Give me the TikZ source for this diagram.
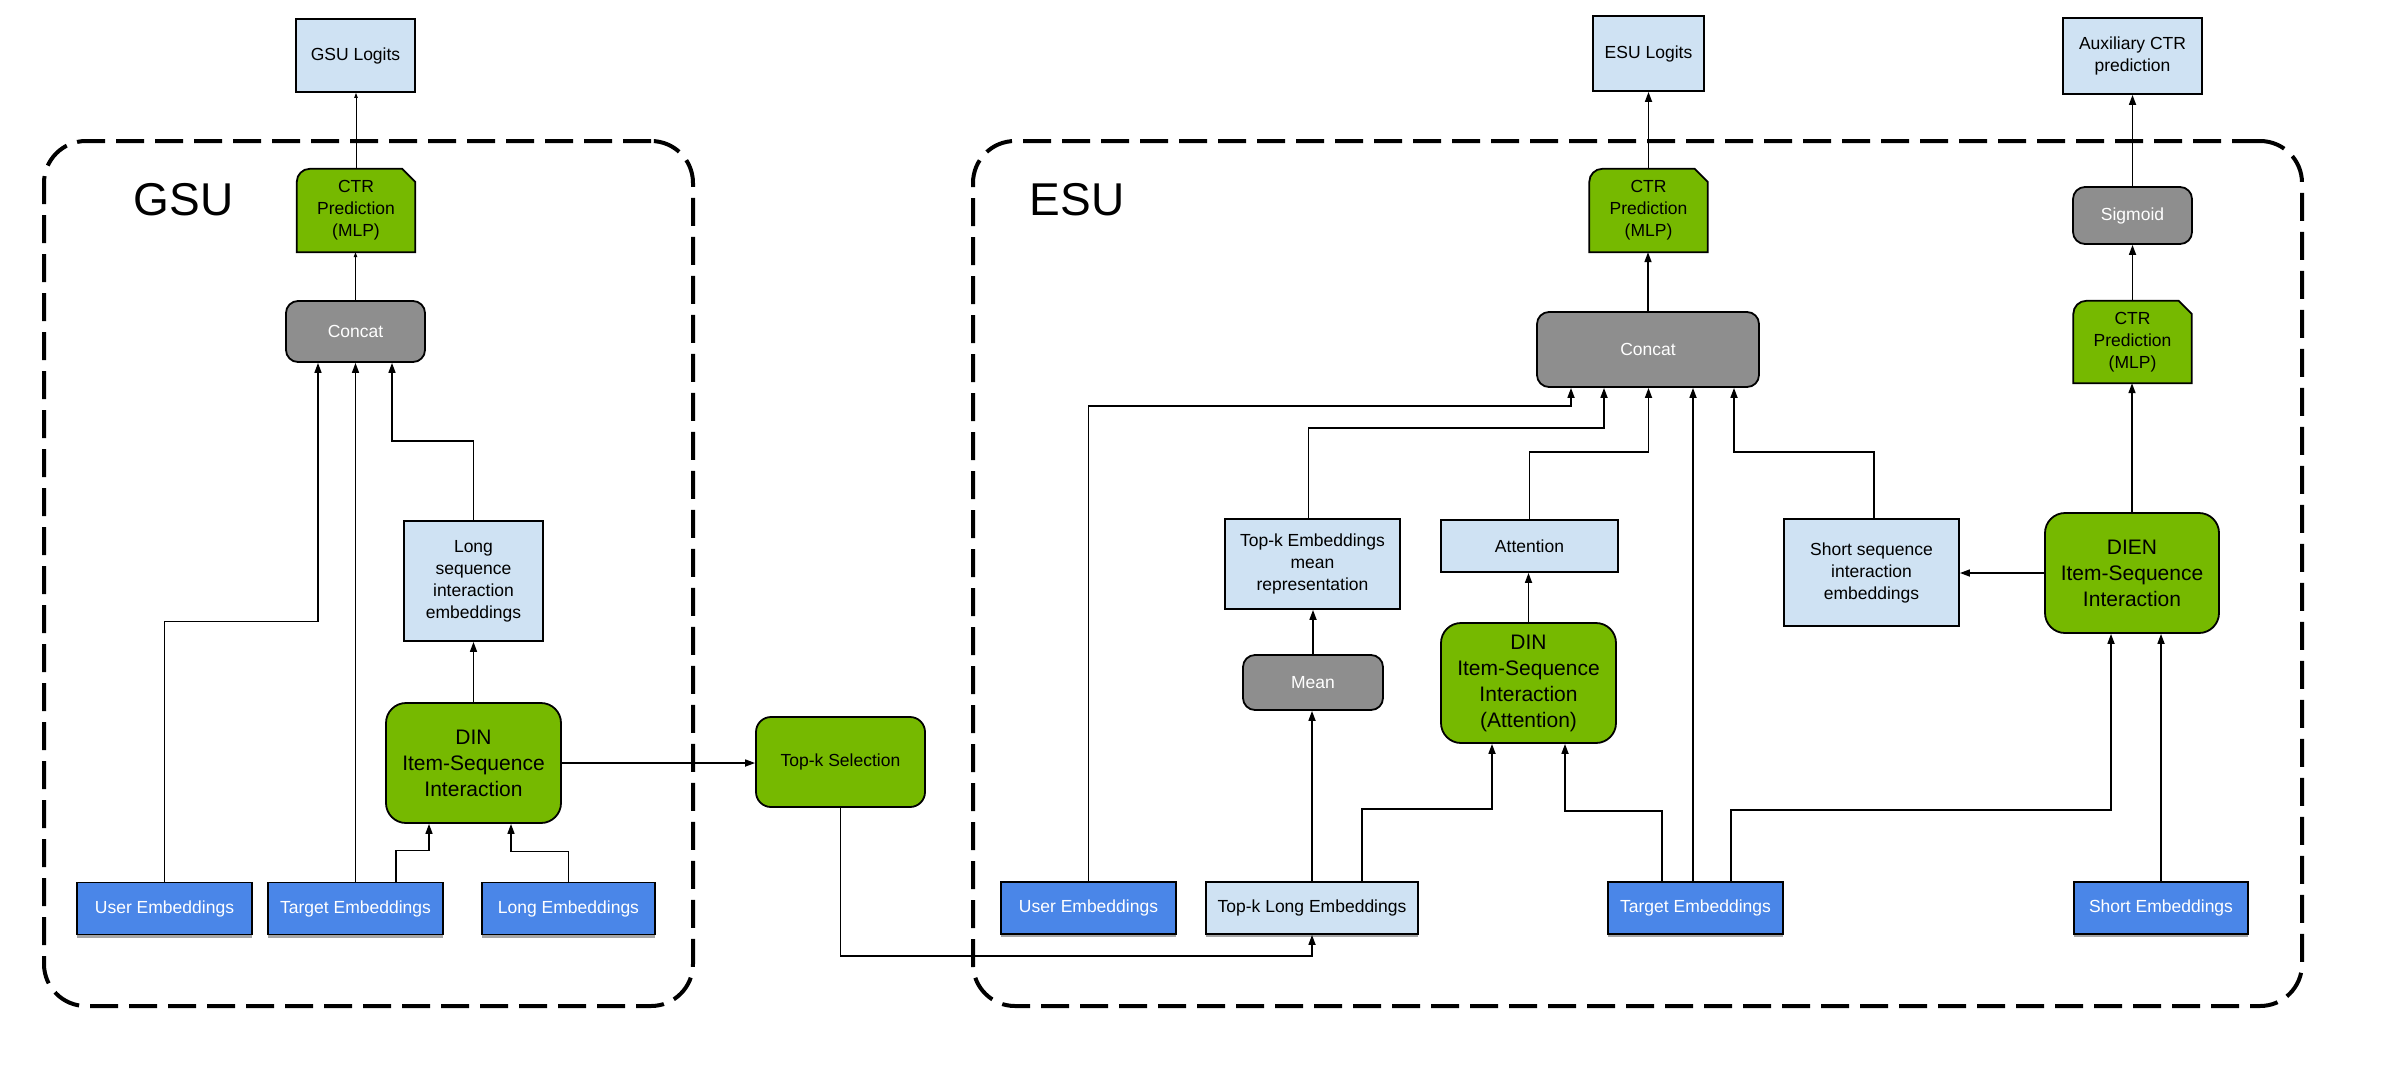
\documentclass[tikz,border=0pt]{standalone}
\usepackage{fontspec}
\setmainfont{Liberation Sans}
\usetikzlibrary{arrows.meta,shadows,backgrounds}
\definecolor{lblue}{HTML}{CFE2F3}
\definecolor{eblue}{HTML}{4A86E8}
\definecolor{ngreen}{HTML}{76B900}
\definecolor{ggray}{HTML}{8E8E8E}
\newcommand\fsnorm{\fontsize{17.5}{22}\selectfont}
\newcommand\fsbig{\fontsize{21}{26}\selectfont}
\newcommand\fslabel{\fontsize{46}{50}\selectfont}
\tikzset{
  base/.style={draw=black, line width=1.8pt, align=center, inner sep=0pt, text=black, font=\fsnorm},
  lbox/.style={base, fill=lblue},
  ebox/.style={base, fill=eblue, text=white, minimum height=52pt,
    drop shadow={shadow xshift=0pt, shadow yshift=-3pt, opacity=0.35, fill=black}},
  lebox/.style={ebox, fill=lblue, text=black},
  gbox/.style={base, fill=ggray, text=white, rounded corners=12pt},
  grbox/.style={base, fill=ngreen, rounded corners=20pt, font=\fsbig},
  ctrnode/.style={align=center, inner sep=0pt, font=\fsnorm, minimum width=118pt, minimum height=83pt},
  ctrshape/.style={draw=black, line width=1.8pt, fill=ngreen},
  arr/.style={line width=1.6pt, -{Triangle[length=10pt,width=7pt]}},
  sarr/.style={line width=0.8pt, -{Triangle[length=5pt,width=3.5pt]}},
  dbox/.style={draw=black, line width=4pt, dash pattern=on 28pt off 11pt, rounded corners=42pt, inner sep=0pt},
  lbl/.style={inner sep=0pt, font=\fslabel},
}
\begin{document}
\begin{tikzpicture}[x=1pt,y=-1pt]
\begin{scope}[on background layer]
\fill[white] (0,0) rectangle (2386,1072);
\end{scope}
\useasboundingbox (0,0) rectangle (2386,1072);

% dashed containers
\node[dbox, minimum width=649pt, minimum height=865pt] (gsubox) at (368.5,573.5) {};
\node[dbox, minimum width=1329pt, minimum height=865pt] (esubox) at (1637.5,573.5) {};
\node[lbl] (gsulbl) at (183.5,199.5) {GSU};
\node[lbl] (esulbl) at (1077,199.5) {ESU};

% ---------------- GSU ----------------
\node[lbox, minimum width=119pt, minimum height=73pt] (glog) at (355.5,55.5) {GSU Logits};
\node[ctrnode] (gctr) at (356,210.5) {CTR\\Prediction\\(MLP)};
\node[gbox, minimum width=139pt, minimum height=61pt] (gcat) at (355.5,331.5) {Concat};
\node[lbox, minimum width=139pt, minimum height=120pt] (glong) at (473.5,581) {Long\\sequence\\interaction\\embeddings};
\node[grbox, minimum width=175pt, minimum height=120pt] (gdin) at (473.5,763) {DIN\\Item-Sequence\\Interaction};
\node[ebox, minimum width=175pt] (guser) at (164.5,908.5) {User Embeddings};
\node[ebox, minimum width=175pt] (gtarget) at (355.5,908.5) {Target Embeddings};
\node[ebox, minimum width=173pt] (glongemb) at (568.5,908.5) {Long Embeddings};
\node[base, fill=ngreen, rounded corners=15pt, minimum width=169pt, minimum height=90pt] (topk) at (840.5,762) {Top-k Selection};

% ---------------- ESU ----------------
\node[lbox, minimum width=111pt, minimum height=75pt] (elog) at (1648.5,53.5) {ESU Logits};
\node[ctrnode] (ectr) at (1648.5,210.5) {CTR\\Prediction\\(MLP)};
\node[gbox, minimum width=222pt, minimum height=75pt] (ecat) at (1648,349.5) {Concat};
\node[lbox, minimum width=139pt, minimum height=76pt] (aux) at (2132.5,56) {Auxiliary CTR\\prediction};
\node[gbox, minimum width=119pt, minimum height=57pt] (sig) at (2132.5,215.5) {Sigmoid};
\node[ctrnode, minimum height=82pt] (actr) at (2132.5,342) {CTR\\Prediction\\(MLP)};
\node[lbox, minimum width=175pt, minimum height=90pt] (tmean) at (1312.5,564) {Top-k Embeddings\\mean\\representation};
\node[lbox, minimum width=177pt, minimum height=52pt] (attn) at (1529.5,546) {Attention};
\node[gbox, minimum width=140pt, minimum height=55pt] (mean) at (1313,682.5) {Mean};
\node[grbox, minimum width=175pt, minimum height=120pt] (edin) at (1528.5,683) {DIN\\Item-Sequence\\Interaction\\(Attention)};
\node[lbox, minimum width=175pt, minimum height=107pt] (sseq) at (1871.5,572.5) {Short sequence\\interaction\\embeddings};
\node[grbox, minimum width=174pt, minimum height=120pt] (dien) at (2132,573) {DIEN\\Item-Sequence\\Interaction};
\node[ebox, minimum width=175pt] (euser) at (1088.5,908) {User Embeddings};
\node[lebox, minimum width=212pt] (tlong) at (1312,908) {Top-k Long Embeddings};
\node[ebox, minimum width=175pt] (etarget) at (1695.5,908) {Target Embeddings};
\node[ebox, minimum width=174pt] (eshort) at (2161,908) {Short Embeddings};

% CTR shapes (rounded top-left, cut top-right)
\begin{scope}[on background layer]
\foreach \n in {gctr,ectr,actr}{
  \draw[ctrshape] (\n.south west) -- ([yshift=-13pt]\n.north west)
    to[out=90,in=180] ([xshift=13pt]\n.north west)
    -- ([xshift=-13pt]\n.north east) -- ([yshift=-13pt]\n.north east)
    -- (\n.south east) -- cycle;
}
\end{scope}

% ---------------- GSU connectors ----------------
\draw[sarr] (gcat.north) -- (gcat.north |- gctr.south);
\draw[sarr] (gctr.north) -- (gctr.north |- glog.south);
\draw[arr] (guser.north) -- ++(0,-260) -| ([xshift=-37.5pt]gcat.south);
\draw[arr] (gtarget.north) -- (gcat.south);
\draw[arr] (glong.north) -- ++(0,-79) -| ([xshift=36.5pt]gcat.south);
\draw[arr] (gdin.north) -- (glong.south);
\draw[arr] ([xshift=40.5pt]gtarget.north) -- ++(0,-31) -| ([xshift=-44.5pt]gdin.south);
\draw[arr] (glongemb.north) -- ++(0,-30) -| ([xshift=37.5pt]gdin.south);
\draw[arr] (gdin.east) -- (gdin.east -| topk.west);
\draw[arr] (topk.south) -- ++(0,148) -| (tlong.south);

% ---------------- ESU connectors ----------------
\draw[arr] (ecat.north) -- (ecat.north |- ectr.south);
\draw[arr] (ectr.north) -- (ectr.north |- elog.south);
\draw[arr] (euser.north) -- ++(0,-475) -| ([xshift=-77pt]ecat.south);
\draw[arr] ([xshift=-4pt]tmean.north) -- ++(0,-90) -| ([xshift=-44pt]ecat.south);
\draw[arr] (attn.north) -- ++(0,-67) -| ([xshift=0.5pt]ecat.south);
\draw[arr] ([xshift=-2.5pt]etarget.north) -- ([xshift=45pt]ecat.south);
\draw[arr] ([xshift=2.5pt]sseq.north) -- ++(0,-66) -| ([xshift=86pt]ecat.south);
\draw[arr] (mean.north) -- (mean.north |- tmean.south);
\draw[arr] (tlong.north) -- (tlong.north |- mean.south);
\draw[arr] ([xshift=50pt]tlong.north) -- ++(0,-72) -| ([xshift=-36.5pt]edin.south);
\draw[arr] ([xshift=-33.5pt]etarget.north) -- ++(0,-70) -| ([xshift=36.5pt]edin.south);
\draw[arr] (edin.north) -- (edin.north |- attn.south);
\draw[arr] ([xshift=35.5pt]etarget.north) -- ++(0,-71) -| ([xshift=-21pt]dien.south);
\draw[arr] (eshort.north) -- (eshort.north |- dien.south);
\draw[arr] (dien.west) -- (dien.west -| sseq.east);
\draw[arr] (dien.north) -- (dien.north |- actr.south);
\draw[arr] (actr.north) -- (actr.north |- sig.south);
\draw[arr] (sig.north) -- (sig.north |- aux.south);
\end{tikzpicture}
\end{document}
